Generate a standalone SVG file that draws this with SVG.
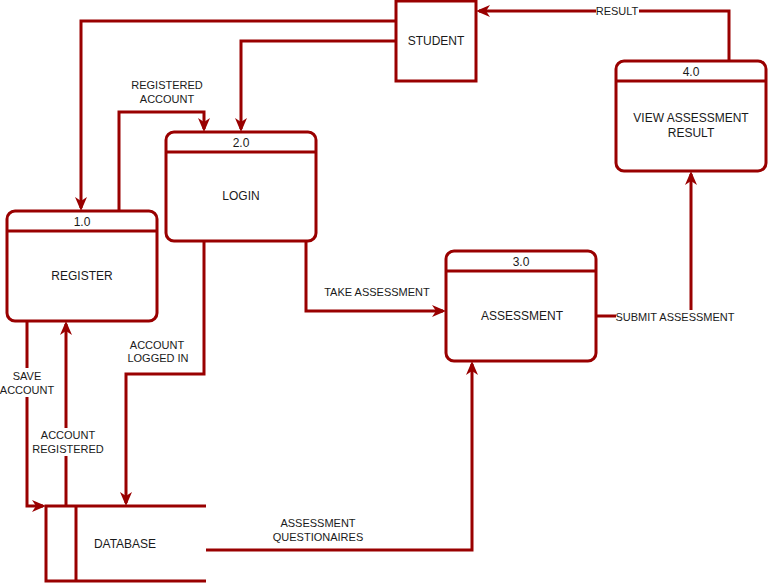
<svg xmlns="http://www.w3.org/2000/svg" width="768" height="583" viewBox="0 0 768 583">
  <style>
    .box { fill: #ffffff; stroke: #990000; stroke-width: 3; }
    .ln { fill: none; stroke: #990000; stroke-width: 3; }
    .edge { fill: none; stroke: #990000; stroke-width: 3; marker-end: url(#arrow); }
    text { font-family: "Liberation Sans", Arial, sans-serif; fill: #1a1a1a; text-anchor: middle; }
    .nt { font-size: 12px; }
    .el { font-size: 11px; }
    .bg { fill: #ffffff; }
  </style>
  <defs>
    <marker id="arrow" viewBox="0 0 14 12" refX="11" refY="6" markerWidth="14" markerHeight="12" markerUnits="userSpaceOnUse" orient="auto">
      <path d="M0,0 L14,6 L0,12 L4,6 Z" fill="#990000"/>
    </marker>
  </defs>

  <rect width="768" height="583" fill="#ffffff"/>

  <!-- connectors -->
  <g id="connectors">
    <!-- STUDENT to REGISTER -->
    <path class="edge" d="M396,21 H81 V208"/>
    <!-- STUDENT to LOGIN -->
    <path class="edge" d="M396,41 H241 V129"/>
    <!-- REGISTER to LOGIN -->
    <path class="edge" d="M119,211 V112 H204 V129"/>
    <text class="el" x="167" y="89">REGISTERED</text>
    <text class="el" x="167" y="103">ACCOUNT</text>
    <!-- LOGIN to DATABASE -->
    <path class="edge" d="M204,241 V374 H126 V503"/>
    <text class="el" x="157" y="349">ACCOUNT</text>
    <text class="el" x="158" y="362">LOGGED IN</text>
    <!-- REGISTER to DATABASE -->
    <path class="edge" d="M27,321 V506 H43"/>
    <rect class="bg" x="0" y="368" width="56" height="29"/>
    <text class="el" x="27" y="380">SAVE</text>
    <text class="el" x="27" y="394">ACCOUNT</text>
    <!-- DATABASE to REGISTER -->
    <path class="edge" d="M66,506 V324"/>
    <rect class="bg" x="38" y="428" width="68" height="28"/>
    <text class="el" x="68" y="439">ACCOUNT</text>
    <text class="el" x="68" y="453">REGISTERED</text>
    <!-- LOGIN to ASSESSMENT -->
    <path class="edge" d="M306,241 V311 H443"/>
    <text class="el" x="377" y="296">TAKE ASSESSMENT</text>
    <!-- DATABASE to ASSESSMENT -->
    <path class="edge" d="M206,550 H472 V364"/>
    <text class="el" x="318" y="527">ASSESSMENT</text>
    <text class="el" x="318" y="541">QUESTIONAIRES</text>
    <!-- ASSESSMENT to VIEW RESULT -->
    <path class="edge" d="M597,316 H691 V174"/>
    <rect class="bg" x="616" y="310" width="119" height="14"/>
    <text class="el" x="675" y="321">SUBMIT ASSESSMENT</text>
    <!-- VIEW RESULT to STUDENT -->
    <path class="edge" d="M729,61 V11 H479"/>
    <rect class="bg" x="596" y="5" width="43" height="13"/>
    <text class="el" x="617" y="15">RESULT</text>
  </g>

  <!-- external entity -->
  <g id="student">
    <rect class="box" x="396" y="1" width="80" height="80"/>
    <text class="nt" x="436" y="45">STUDENT</text>
  </g>

  <!-- processes -->
  <g id="p1">
    <rect class="box" x="7" y="211" width="150" height="110" rx="8"/>
    <line class="ln" x1="7" y1="231" x2="157" y2="231"/>
    <text class="nt" x="82" y="226">1.0</text>
    <text class="nt" x="82" y="280">REGISTER</text>
  </g>

  <g id="p2">
    <rect class="box" x="166" y="132" width="150" height="109" rx="8"/>
    <line class="ln" x1="166" y1="152" x2="316" y2="152"/>
    <text class="nt" x="241" y="147">2.0</text>
    <text class="nt" x="241" y="200">LOGIN</text>
  </g>

  <g id="p3">
    <rect class="box" x="446" y="251" width="150" height="110" rx="8"/>
    <line class="ln" x1="446" y1="271" x2="596" y2="271"/>
    <text class="nt" x="521" y="266">3.0</text>
    <text class="nt" x="522" y="320">ASSESSMENT</text>
  </g>

  <g id="p4">
    <rect class="box" x="616" y="61" width="150" height="110" rx="8"/>
    <line class="ln" x1="616" y1="81" x2="766" y2="81"/>
    <text class="nt" x="691" y="76">4.0</text>
    <text class="nt" x="691" y="122">VIEW ASSESSMENT</text>
    <text class="nt" x="691" y="137">RESULT</text>
  </g>

  <!-- data store -->
  <g id="database">
    <path class="ln" d="M206,506 H46 V581 H206"/>
    <line class="ln" x1="76" y1="506" x2="76" y2="581"/>
    <text class="nt" x="125" y="548">DATABASE</text>
  </g>
</svg>
